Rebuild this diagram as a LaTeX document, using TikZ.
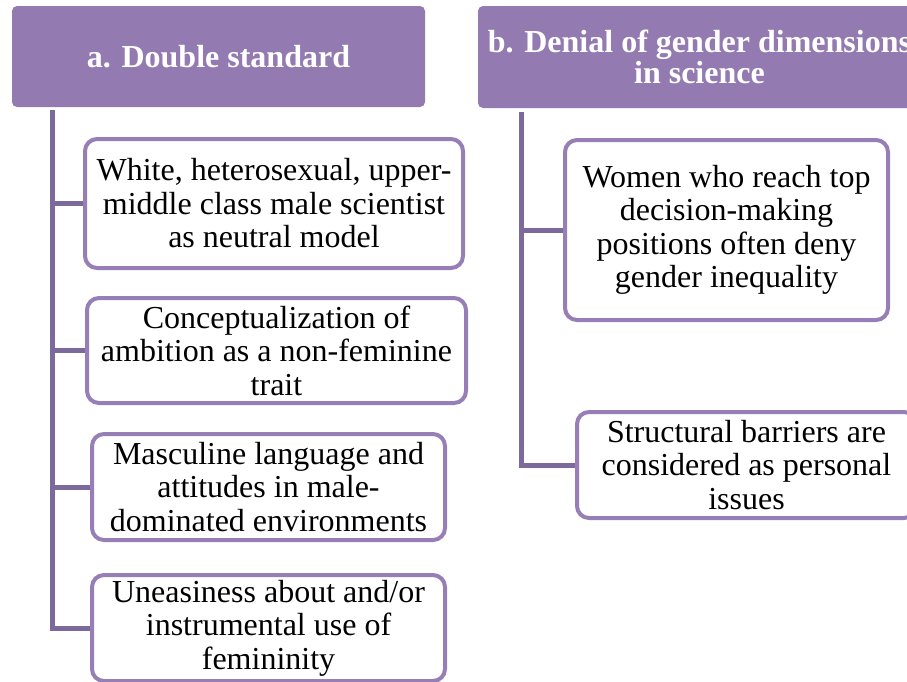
\documentclass[tikz,border=0pt]{standalone}
\usepackage{fontspec}
\setmainfont{Liberation Serif}
\definecolor{headfill}{HTML}{937BB2}
\definecolor{boxline}{HTML}{977EB6}
\definecolor{connline}{HTML}{7D6A9D}
\tikzset{
  headbox/.style={draw=none, fill=headfill, rounded corners=5pt, inner sep=0pt,
    align=center, text=white, font=\fontsize{32}{31}\selectfont\bfseries},
  itembox/.style={draw=boxline, line width=4pt, fill=white, rounded corners=12pt,
    inner sep=0pt, align=center, font=\fontsize{32}{33.5}\selectfont},
  conn/.style={draw=connline, line width=5pt}
}
\begin{document}
\begin{tikzpicture}[x=1pt,y=-1pt]
  \useasboundingbox (0,0) rectangle (907,681);
  \clip (0,0) rectangle (907,681);

  % column headers
  \node[headbox, minimum width=413pt, minimum height=101pt] (ha) at (218.5,56.5)
    {a. Double standard};
  \node[headbox, minimum width=443pt, minimum height=102pt] (hb) at (699.5,57)
    {b. Denial of gender dimensions\\in science};

  % spine start points
  \coordinate (sa) at (52,110);
  \coordinate (sb) at (521,112);

  % connectors (behind the boxes)
  \draw[conn] (sa) |- (274,203.5);
  \draw[conn] (sa) |- (276,350.5);
  \draw[conn] (sa) |- (268,487);
  \draw[conn] (sa) |- (268,628);
  \draw[conn] (sb) |- (726,230);
  \draw[conn] (sb) |- (746,465);

  % column a items
  \node[itembox, minimum width=378pt, minimum height=129pt] (a1) at (274,203.5)
    {White, heterosexual, upper-\\middle class male scientist\\as neutral model};
  \node[itembox, minimum width=379pt, minimum height=105pt] (a2) at (276.5,350.5)
    {Conceptualization of\\ambition as a non-feminine\\trait};
  \node[itembox, minimum width=353pt, minimum height=106pt] (a3) at (268.5,487)
    {Masculine language and\\attitudes in male-\\dominated environments};
  \node[itembox, minimum width=353pt, minimum height=106pt] (a4) at (268.5,628)
    {Uneasiness about and/or\\instrumental use of\\femininity};

  % column b items
  \node[itembox, minimum width=323pt, minimum height=180pt] (b1) at (726.5,230)
    {Women who reach top\\decision-making\\positions often deny\\gender inequality};
  \node[itembox, minimum width=339pt, minimum height=106pt] (b2) at (746.5,465)
    {Structural barriers are\\considered as personal\\issues};
\end{tikzpicture}
\end{document}
